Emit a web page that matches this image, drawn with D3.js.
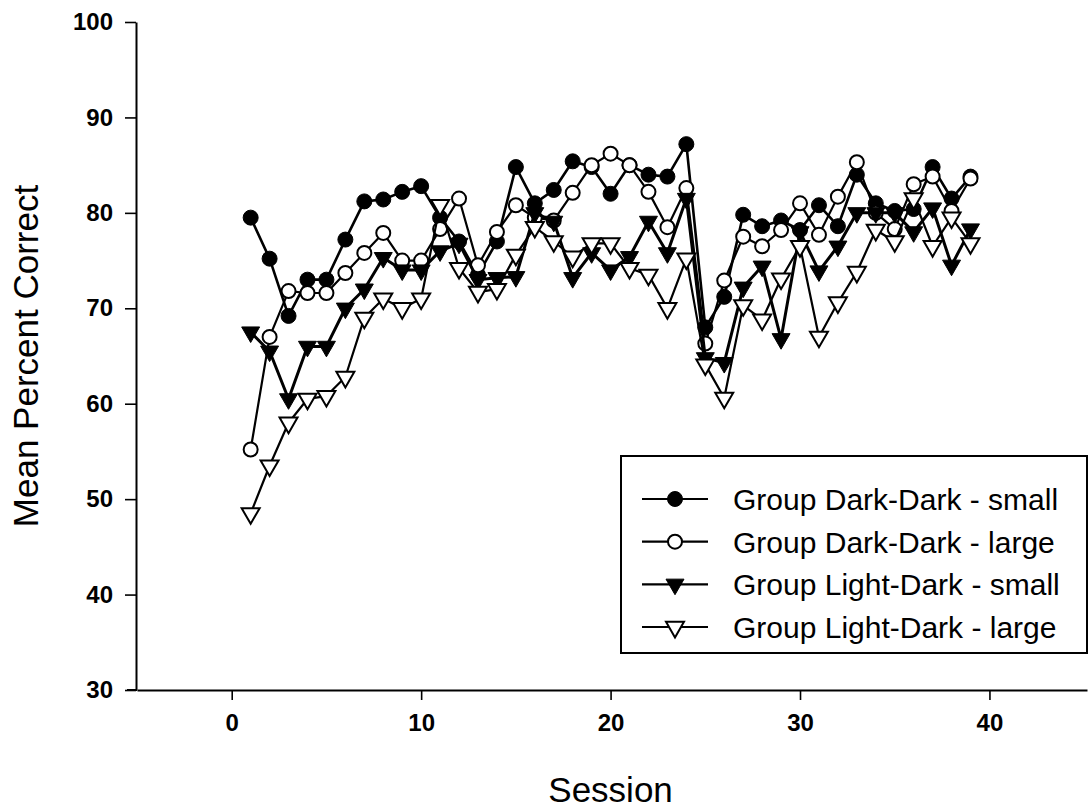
<!DOCTYPE html>
<html>
<head>
<meta charset="utf-8">
<script src="https://cdn.jsdelivr.net/npm/d3@7"></script>
<style>
  body { margin: 0; background: #fff; }
  svg { display: block; }
</style>
</head>
<body>
<div id="chart"></div>
<script>
// Data (mean percent correct per session)
const sessions = [1, 2, 3, 4, 5, 6, 7, 8, 9, 10, 11, 12, 13, 14, 15, 16, 17, 18, 19, 20,
  21, 22, 23, 24, 25, 26, 27, 28, 29, 30, 31, 32, 33, 34, 35, 36, 37, 38, 39]

const ddSmall = [79.5, 75.2, 69.2, 73.0, 73.0, 77.2, 81.2, 81.4, 82.2, 82.8,
  79.5, 77.0, 73.5, 77.0, 84.8, 81.0, 82.4, 85.4, 84.8, 82.0,
  85.0, 84.0, 83.8, 87.2, 68.0, 71.2, 79.8, 78.6, 79.2, 78.2,
  80.8, 78.6, 84.0, 81.0, 80.2, 80.4, 84.8, 81.5, 83.8]

const ddLarge = [55.2, 67.0, 71.8, 71.6, 71.6, 73.7, 75.8, 77.9, 75.0, 75.0,
  78.3, 81.5, 74.5, 78.0, 80.8, 79.5, 79.2, 82.1, 85.0, 86.2,
  85.0, 82.2, 78.5, 82.6, 66.3, 72.9, 77.5, 76.5, 78.2, 81.0,
  77.7, 81.7, 85.3, 80.0, 78.3, 83.0, 83.8, 80.2, 83.6]

const ldSmall = [67.5, 65.5, 60.5, 66.0, 66.0, 70.0, 72.0, 75.3, 74.0, 74.0,
  76.0, 76.8, 73.0, 73.2, 73.3, 80.0, 79.1, 73.2, 75.8, 74.0,
  75.4, 79.1, 75.8, 81.5, 64.8, 64.3, 72.2, 74.4, 66.8, 78.0,
  73.9, 76.5, 80.0, 80.0, 80.0, 78.0, 80.5, 74.5, 78.3]

const ldLarge = [48.5, 53.5, 58.0, 60.5, 60.8, 62.8, 69.0, 71.0, 70.0, 71.0,
  80.8, 74.2, 71.7, 72.0, 75.6, 78.5, 77.0, 75.4, 76.8, 76.8,
  74.2, 73.5, 70.0, 75.2, 64.1, 60.6, 70.3, 68.8, 73.1, 76.5,
  67.0, 70.6, 73.8, 78.2, 77.0, 81.5, 76.5, 79.5, 76.8]

const seriesNames = [
  'Group Dark-Dark - small',
  'Group Dark-Dark - large',
  'Group Light-Dark - small',
  'Group Light-Dark - large',
]

const xTicks = [0, 10, 20, 30, 40]
const yTicks = [30, 40, 50, 60, 70, 80, 90, 100]

// styling per series: marker shape, filled or open, line width
const styles = [
  { shape: 'circle', filled: true, lineWidth: 2.6 },
  { shape: 'circle', filled: false, lineWidth: 2.2 },
  { shape: 'triangle', filled: true, lineWidth: 3 },
  { shape: 'triangle', filled: false, lineWidth: 2.2 },
]

const width = 1089
const height = 811
const font = '"Liberation Sans", Arial, Helvetica, sans-serif'

const svg = d3
  .select('#chart')
  .append('svg')
  .attr('width', width)
  .attr('height', height)
  .style('background', '#fff')

const xScale = d3.scaleLinear().domain([-5, 45.15]).range([137, 1087])
const yScale = d3.scaleLinear().domain([30, 100]).range([690, 22])

// axes
const xAxis = svg
  .append('g')
  .attr('transform', `translate(0, ${yScale(30)})`)
  .call(
    d3.axisBottom(xScale).tickValues(xTicks).tickSize(10).tickSizeOuter(0).tickPadding(14),
  )

const yAxis = svg
  .append('g')
  .attr('transform', `translate(${xScale(-5) - 1}, 0)`)
  .call(d3.axisLeft(yScale).tickValues(yTicks).tickSize(11).tickSizeOuter(0).tickPadding(12))

;[xAxis, yAxis].forEach(g => {
  g.select('.domain').attr('stroke', '#000').attr('stroke-width', 2)
  g.selectAll('.tick line').attr('stroke', '#000').attr('stroke-width', 1.6)
  g.selectAll('.tick text')
    .attr('fill', '#000')
    .style('font-family', font)
    .style('font-size', '24px')
    .style('font-weight', 'bold')
})

// small overhang of the x axis to the left of the y axis
xAxis
  .append('line')
  .attr('x1', xScale(-5) - 10)
  .attr('x2', xScale(-5))
  .attr('stroke', '#000')
  .attr('stroke-width', 2)

// axis titles
svg
  .append('text')
  .attr('x', xScale(20))
  .attr('y', 802)
  .attr('text-anchor', 'middle')
  .style('font-family', font)
  .style('font-size', '35px')
  .text('Session')

svg
  .append('text')
  .attr('transform', `translate(38, ${(yScale(30) + yScale(100)) / 2}) rotate(-90)`)
  .attr('text-anchor', 'middle')
  .style('font-family', font)
  .style('font-size', '35px')
  .text('Mean Percent Correct')

// marker helper
const triangle = d3.symbol().type(d3.symbolTriangle).size(140)

function drawMarker(sel, style) {
  if (style.shape === 'circle') {
    sel
      .append('circle')
      .attr('r', style.filled ? 7.5 : 7)
      .attr('fill', style.filled ? '#000' : '#fff')
      .attr('stroke', '#000')
      .attr('stroke-width', style.filled ? 1 : 2)
  } else {
    sel
      .append('path')
      .attr('d', triangle)
      .attr('transform', 'rotate(180)')
      .attr('fill', style.filled ? '#000' : '#fff')
      .attr('stroke', '#000')
      .attr('stroke-width', style.filled ? 1 : 2)
      .attr('stroke-linejoin', 'miter')
  }
}

const allSeries = [ddSmall, ddLarge, ldSmall, ldLarge].map((values, i) => ({
  name: seriesNames[i],
  style: styles[i],
  points: sessions.map((s, j) => ({ session: s, value: values[j] })),
}))

const line = d3
  .line()
  .x(d => xScale(d.session))
  .y(d => yScale(d.value))

const plot = svg.append('g')

allSeries.forEach(series => {
  const g = plot.append('g')
  g.append('path')
    .datum(series.points)
    .attr('fill', 'none')
    .attr('stroke', '#000')
    .attr('stroke-width', series.style.lineWidth)
    .attr('stroke-linejoin', 'round')
    .attr('d', line)

  g.selectAll('.marker')
    .data(series.points)
    .join('g')
    .attr('class', 'marker')
    .attr('transform', d => `translate(${xScale(d.session)}, ${yScale(d.value)})`)
    .each(function () {
      drawMarker(d3.select(this), series.style)
    })
})

// legend
const legendX = 621
const legendY = 456
const legendW = 1087 - legendX
const legendH = 197

const legend = svg.append('g')
legend
  .append('rect')
  .attr('x', legendX)
  .attr('y', legendY)
  .attr('width', legendW)
  .attr('height', legendH)
  .attr('fill', '#fff')
  .attr('stroke', '#000')
  .attr('stroke-width', 2)

const rowY = d3.scalePoint().domain(seriesNames).range([499, 627])

allSeries.forEach(series => {
  const y = rowY(series.name)
  const row = legend.append('g')
  row
    .append('line')
    .attr('x1', 642)
    .attr('x2', 708)
    .attr('y1', y)
    .attr('y2', y)
    .attr('stroke', '#000')
    .attr('stroke-width', 2.2)
  const m = row.append('g').attr('transform', `translate(675, ${y})`)
  drawMarker(m, series.style)
  row
    .append('text')
    .attr('x', 733)
    .attr('y', y + 11)
    .style('font-family', font)
    .style('font-size', '30px')
    .text(series.name)
})
</script>
</body>
</html>
